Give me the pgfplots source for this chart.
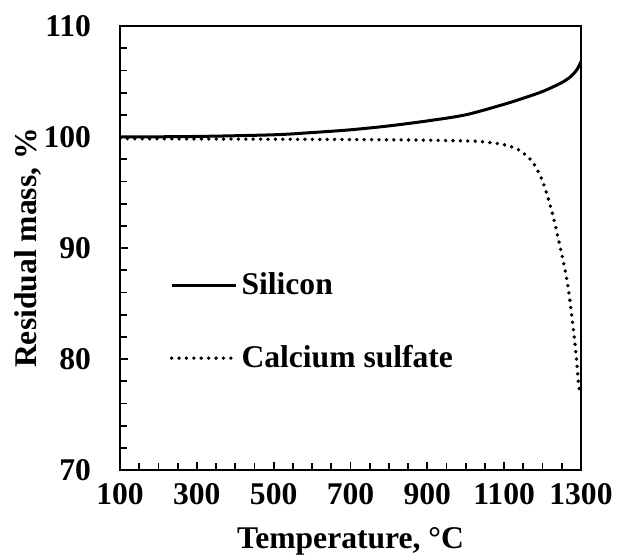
\documentclass[border=0pt]{standalone}
\usepackage{fontspec}
\setmainfont{Liberation Serif}
\usepackage{pgfplots}
\pgfplotsset{compat=1.18}

\begin{document}
\begin{tikzpicture}
\useasboundingbox (0pt,0pt) rectangle (308.5pt,279pt);
\begin{axis}[
        at={(60pt,44pt)}, anchor=south west,
        scale only axis,
        width=230.5pt, height=222pt,
        xmin=100, xmax=1300,
        ymin=70, ymax=110,
        xtick={100,300,...,1300},
        ytick={70,80,...,110},
        minor x tick num=3,
        minor y tick num=4,
        tick align=inside,
        tick pos=left,
        major tick length=4pt,
        minor tick length=3.5pt,
        axis line style={line width=1pt},
        every tick/.style={line width=0.9pt, black},
        xlabel={Temperature, \textdegree C},
        ylabel={Residual mass, \%},
        xlabel style={at={(axis description cs:0.5,-0.16)}, anchor=center},
        ylabel style={at={(axis description cs:-0.2,0.5)}, anchor=center},
        label style={font=\fontsize{15.8}{18}\selectfont\bfseries},
        tick label style={font=\fontsize{15.8}{18}\selectfont\bfseries},
        /pgf/number format/assume math mode=true,
        /pgf/number format/set thousands separator={},
        yticklabel style={xshift=-11pt},
        xticklabel style={yshift=-3pt},
        legend style={at={(axis description cs:0.094,0.334)}, anchor=west,
            draw=none, fill=none, row sep=20pt,
            font=\fontsize{15.8}{18}\selectfont\bfseries},
        legend cell align=left,
        legend image code/.code={\draw[#1] (0pt,0pt) -- (32pt,0pt);},
    ]
    % Silicon
    \addplot[black, line width=1.5pt, smooth] coordinates {
        (100,100.0) (300,100.05) (500,100.2) (600,100.4) (700,100.65)
        (800,101.0) (900,101.45) (1000,102.0) (1100,102.95) (1150,103.5)
        (1200,104.1) (1250,104.9) (1275,105.5) (1290,106.1) (1300,106.8)
    };
    % Calcium sulfate
    \addplot[black, line width=1.9pt, line cap=round, dash pattern=on 0pt off 3.7pt, smooth] coordinates {
        (100,99.85) (500,99.8) (800,99.75) (1000,99.65) (1050,99.55)
        (1100,99.3) (1140,98.8) (1175,97.7) (1200,96.0) (1225,93.2)
        (1250,89.4) (1265,86.8) (1276,83.9) (1287,80.5) (1293,78.0) (1297,76.9)
    };
    \legend{Silicon, Calcium sulfate}
\end{axis}
\end{tikzpicture}
\end{document}
